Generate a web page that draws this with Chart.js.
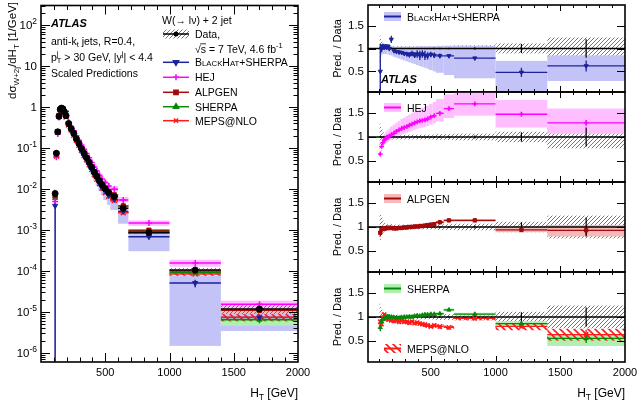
<!DOCTYPE html>
<html>
<head>
<meta charset="utf-8">
<script src="https://cdn.jsdelivr.net/npm/chart.js@4.4.1/dist/chart.umd.min.js"></script>
<style>
  html, body { margin: 0; padding: 0; background: #fff; }
  #wrap { position: relative; width: 638px; height: 403px; }
  #wrap canvas { position: absolute; left: 0; top: 0; }
</style>
</head>
<body>
<div id="wrap">
  <canvas id="main" width="638" height="403"></canvas>
  <canvas id="r1" width="638" height="403"></canvas>
  <canvas id="r2" width="638" height="403"></canvas>
  <canvas id="r3" width="638" height="403"></canvas>
  <canvas id="r4" width="638" height="403"></canvas>
</div>
<script>
const FONT = '"Liberation Sans", Arial, Helvetica, sans-serif';

// ---------------- data (HT bins, GeV) ----------------
const binCenter = [110,120,130,140,150,160,170,180,195,215,235,255,275,295,315,335,355,375,395,415,435,455,475,500,527,570,640,840,1200,1700];
const binLo     = [105,115,125,135,145,155,165,175,185,205,225,245,265,285,305,325,345,365,385,405,425,445,465,485,515,540,600,680,1000,1400];
const binHi     = [115,125,135,145,155,165,175,185,205,225,245,265,285,305,325,345,365,385,405,425,445,465,485,515,540,600,680,1000,1400,2000];

// measured d sigma / d HT [1/GeV]
const dataXsec    = [0.0078,0.075,0.25,0.6,0.88,0.95,0.9,0.78,0.62,0.40,0.30,0.23,0.17,0.13,0.098,0.075,0.058,0.045,0.034,0.026,0.0205,0.016,0.0128,0.0102,0.0082,0.0066,0.0034,0.00087,0.000106,0.0000118];
const dataTotErr  = [0.28,0.2,0.14,0.1,0.08,0.07,0.06,0.06,0.06,0.05,0.05,0.05,0.05,0.05,0.05,0.05,0.05,0.05,0.05,0.05,0.05,0.05,0.05,0.05,0.05,0.06,0.06,0.07,0.11,0.24];
const dataStatErr = [0.02,0.01,0.005,0.005,0.005,0.005,0.005,0.005,0.005,0.005,0.005,0.005,0.005,0.005,0.006,0.006,0.007,0.008,0.009,0.01,0.011,0.012,0.013,0.012,0.015,0.015,0.015,0.03,0.1,0.2];

// prediction / data
const bhRatio  = [0.5,1.0,1.05,1.02,1.05,1.03,1.05,1.0,1.2,0.95,0.93,0.92,0.91,0.89,0.88,0.86,0.89,0.85,0.88,0.85,0.88,0.85,0.84,0.87,0.85,0.84,0.84,0.79,0.48,0.62];
const bhErr    = [0.6,0.08,0.06,0.05,0.05,0.05,0.04,0.05,0.08,0.03,0.03,0.04,0.04,0.04,0.05,0.05,0.06,0.06,0.08,0.1,0.08,0.1,0.08,0.06,0.06,0.05,0.04,0.03,0.1,0.12];
const bhBandLo = [0.0,0.85,0.88,0.88,0.88,0.88,0.87,0.86,0.85,0.82,0.8,0.78,0.76,0.74,0.72,0.7,0.68,0.66,0.64,0.62,0.6,0.58,0.56,0.53,0.5,0.47,0.42,0.35,0.014,0.29];
const bhBandHi = [1.1,1.1,1.1,1.08,1.07,1.06,1.05,1.05,1.05,1.04,1.04,1.04,1.04,1.04,1.04,1.04,1.04,1.04,1.05,1.05,1.05,1.05,1.05,1.05,1.05,1.05,1.06,1.06,0.73,0.85];

const hejRatio  = [0.64,0.8,0.88,0.93,0.96,0.99,1.0,1.02,1.05,1.08,1.12,1.15,1.18,1.2,1.22,1.25,1.27,1.3,1.32,1.34,1.35,1.36,1.38,1.42,1.45,1.5,1.6,1.7,1.48,1.3];
const hejErr    = [0.03,0.02,0.02,0.02,0.02,0.02,0.02,0.02,0.02,0.02,0.02,0.02,0.02,0.02,0.02,0.02,0.02,0.02,0.02,0.03,0.03,0.03,0.03,0.03,0.03,0.03,0.03,0.02,0.03,0.06];
const hejBandLo = [0.58,0.7,0.78,0.83,0.86,0.88,0.9,0.92,0.94,0.97,1.0,1.03,1.05,1.07,1.09,1.11,1.13,1.15,1.17,1.19,1.2,1.21,1.23,1.26,1.29,1.33,1.4,1.45,1.2,1.07];
const hejBandHi = [0.72,0.9,1.0,1.06,1.1,1.13,1.15,1.18,1.22,1.26,1.3,1.34,1.38,1.41,1.44,1.47,1.5,1.53,1.56,1.59,1.61,1.63,1.66,1.7,1.74,1.8,1.9,1.98,1.78,1.6];

const alpRatio  = [0.88,0.95,0.97,0.97,0.97,0.98,0.98,0.98,0.98,0.97,0.97,0.98,0.98,0.99,0.99,1.0,1.0,1.01,1.01,1.02,1.02,1.03,1.04,1.05,1.06,1.1,1.14,1.14,0.94,0.93];
const alpErr    = [0.08,0.03,0.02,0.02,0.02,0.02,0.02,0.02,0.02,0.02,0.02,0.02,0.02,0.02,0.02,0.02,0.02,0.02,0.02,0.02,0.02,0.02,0.02,0.02,0.02,0.02,0.02,0.02,0.05,0.1];
const alpBandLo = [0.84,0.92,0.94,0.94,0.94,0.95,0.95,0.95,0.95,0.94,0.94,0.95,0.95,0.96,0.96,0.97,0.97,0.98,0.98,0.99,0.99,1.0,1.01,1.02,1.03,1.07,1.11,1.11,0.89,0.8];
const alpBandHi = [0.92,0.98,1.0,1.0,1.0,1.01,1.01,1.01,1.01,1.0,1.0,1.01,1.01,1.02,1.02,1.03,1.03,1.04,1.04,1.05,1.05,1.06,1.07,1.08,1.09,1.13,1.17,1.17,0.99,1.04];

const shRatio  = [0.78,0.9,0.95,0.98,1.0,1.0,1.01,1.0,1.0,0.99,0.99,0.98,0.99,1.0,1.0,1.01,1.0,1.02,1.03,1.02,1.04,1.05,1.05,1.06,1.06,1.07,1.15,1.06,0.86,0.55];
const shErr    = [0.08,0.04,0.03,0.02,0.02,0.02,0.02,0.02,0.02,0.02,0.02,0.02,0.02,0.02,0.02,0.02,0.02,0.02,0.02,0.02,0.02,0.03,0.03,0.03,0.03,0.03,0.03,0.02,0.04,0.1];
const shBandLo = [0.74,0.87,0.92,0.95,0.97,0.97,0.98,0.97,0.97,0.96,0.96,0.95,0.96,0.97,0.97,0.98,0.97,0.99,1.0,0.99,1.01,1.02,1.02,1.03,1.03,1.04,1.12,1.03,0.82,0.39];
const shBandHi = [0.82,0.93,0.98,1.01,1.03,1.03,1.04,1.03,1.03,1.02,1.02,1.01,1.02,1.03,1.03,1.04,1.03,1.05,1.06,1.05,1.07,1.08,1.08,1.09,1.09,1.1,1.18,1.09,0.91,0.62];

const mepsRatio  = [0.9,0.85,0.98,1.05,1.0,0.97,0.95,0.95,0.93,0.92,0.92,0.9,0.92,0.9,0.9,0.88,0.9,0.87,0.88,0.86,0.85,0.84,0.82,0.8,0.82,0.8,0.78,0.97,0.8,0.63];
const mepsErr    = [0.06,0.04,0.03,0.03,0.03,0.03,0.03,0.03,0.03,0.03,0.03,0.03,0.03,0.03,0.03,0.03,0.03,0.03,0.03,0.03,0.03,0.03,0.03,0.03,0.03,0.03,0.03,0.02,0.04,0.1];
const mepsBandLo = [0.85,0.8,0.93,1.0,0.95,0.92,0.9,0.9,0.88,0.87,0.87,0.85,0.87,0.85,0.85,0.83,0.85,0.82,0.83,0.81,0.8,0.79,0.77,0.75,0.77,0.75,0.73,0.93,0.72,0.5];
const mepsBandHi = [0.94,0.89,1.02,1.09,1.04,1.01,0.99,0.99,0.97,0.96,0.96,0.94,0.96,0.94,0.94,0.92,0.94,0.91,0.92,0.9,0.89,0.88,0.86,0.84,0.86,0.84,0.82,1.0,0.87,0.75];

const xTickValues = [500, 1000, 1500, 2000];
const logTickExp = [-6, -5, -4, -3, -2, -1, 0, 1, 2];
const ratioTicks = [0.5, 1, 1.5];

//----------------------------------------helpers--------------------------------------//
function font(size, style) { return (style || '') + ' ' + size + 'px ' + FONT; }

// parts: [text, size, dy, noAdvance]
function rich(ctx, x, y, parts, align) {
  let total = 0;
  const widths = parts.map(p => {
    ctx.font = font(p[1]);
    const w = ctx.measureText(p[0]).width;
    if (!p[3]) total += w;
    return w;
  });
  let cx = align === 'right' ? x - total : (align === 'center' ? x - total / 2 : x);
  parts.forEach((p, i) => {
    ctx.font = font(p[1]);
    ctx.fillText(p[0], cx, y + (p[2] || 0));
    if (!p[3]) cx += widths[i];
  });
  return total;
}

function makeHatch(color, size, lw, dir) {
  const c = document.createElement('canvas');
  c.width = c.height = size;
  const g = c.getContext('2d');
  g.strokeStyle = color;
  g.lineWidth = lw;
  g.beginPath();
  if (dir > 0) {
    g.moveTo(0, size); g.lineTo(size, 0);
    g.moveTo(-1, 1); g.lineTo(1, -1);
    g.moveTo(size - 1, size + 1); g.lineTo(size + 1, size - 1);
  } else {
    g.moveTo(0, 0); g.lineTo(size, size);
    g.moveTo(-1, size - 1); g.lineTo(1, size + 1);
    g.moveTo(size - 1, -1); g.lineTo(size + 1, 1);
  }
  g.stroke();
  return g.createPattern(c, 'repeat');
}

const dataHatch = makeHatch('#666666', 4, 0.9, 1);
const mepsHatch = makeHatch('#ff1a1a', 7, 1.6, -1);

const BH_NAME = [['B', 10.5], ['LACK', 7.8], ['H', 10.5], ['AT', 7.8], ['+SHERPA', 10.5]];

const preds = [
  { ratio: bhRatio, err: bhErr, lo: bhBandLo, hi: bhBandHi, color: '#1c249c', band: 'rgb(195,195,248)', style: 'triangle', rot: 180, name: BH_NAME },
  { ratio: hejRatio, err: hejErr, lo: hejBandLo, hi: hejBandHi, color: '#ff00ff', band: 'rgb(255,190,255)', style: 'cross', rot: 0, name: [['HEJ', 10.5]] },
  { ratio: alpRatio, err: alpErr, lo: alpBandLo, hi: alpBandHi, color: '#a50a0a', band: 'rgb(245,185,185)', style: 'rect', rot: 0, name: [['ALPGEN', 10.5]] },
  { ratio: shRatio, err: shErr, lo: shBandLo, hi: shBandHi, color: '#0a870a', band: 'rgb(175,240,175)', style: 'triangle', rot: 0, name: [['SHERPA', 10.5]] },
  { ratio: mepsRatio, err: mepsErr, lo: mepsBandLo, hi: mepsBandHi, color: '#ff1a1a', band: mepsHatch, style: 'crossRot', rot: 0, name: [['MEPS@NLO', 10.5]] }
];

//----------------------------------------plugins--------------------------------------//
function layerPlugin(layers) {
  return {
    id: 'layers',
    beforeDatasetsDraw(chart) {
      const { ctx, chartArea: a } = chart;
      const xs = chart.scales.x, ys = chart.scales.y;
      const py = v => ys.getPixelForValue(Math.max(v, ys.min));
      const px = v => xs.getPixelForValue(v);
      ctx.save();
      ctx.beginPath();
      ctx.rect(a.left, a.top, a.right - a.left, a.bottom - a.top);
      ctx.clip();
      layers.forEach(L => {
        if (L.type === 'band') {
          ctx.fillStyle = L.fill;
          L.lo.forEach((lo, i) => {
            const x1 = px(binLo[i]), x2 = px(binHi[i]);
            const y1 = py(L.hi[i]), y2 = py(lo);
            ctx.fillRect(x1, y1, x2 - x1, y2 - y1);
          });
        } else if (L.type === 'hline') {
          ctx.strokeStyle = L.color;
          ctx.lineWidth = L.width;
          ctx.beginPath();
          ctx.moveTo(a.left, py(L.y));
          ctx.lineTo(a.right, py(L.y));
          ctx.stroke();
        } else if (L.type === 'bins') {
          ctx.strokeStyle = L.color;
          ctx.lineWidth = L.width;
          L.val.forEach((v, i) => {
            ctx.beginPath();
            if (!L.noH) {
              ctx.moveTo(px(binLo[i]), py(v));
              ctx.lineTo(px(binHi[i]), py(v));
            }
            const xc = px(binCenter[i]);
            ctx.moveTo(xc, py(L.lo[i]));
            ctx.lineTo(xc, py(L.hi[i]));
            ctx.stroke();
          });
        }
      });
      ctx.restore();
    }
  };
}

function framePlugin(xTicks, yTicks) {
  return {
    id: 'frame',
    afterDraw(chart) {
      const { ctx, chartArea: a } = chart;
      const xs = chart.scales.x, ys = chart.scales.y;
      ctx.save();
      ctx.strokeStyle = '#000';
      ctx.lineWidth = 1;
      ctx.beginPath();
      xTicks.forEach(t => {
        const p = Math.round(xs.getPixelForValue(t.v)) + 0.5;
        ctx.moveTo(p, a.bottom); ctx.lineTo(p, a.bottom - t.len);
        ctx.moveTo(p, a.top); ctx.lineTo(p, a.top + t.len);
      });
      yTicks.forEach(t => {
        const p = Math.round(ys.getPixelForValue(t.v)) + 0.5;
        ctx.moveTo(a.left, p); ctx.lineTo(a.left + t.len, p);
        ctx.moveTo(a.right, p); ctx.lineTo(a.right - t.len, p);
      });
      ctx.stroke();
      ctx.lineWidth = 1.6;
      ctx.strokeRect(a.left, a.top, a.right - a.left, a.bottom - a.top);
      ctx.restore();
    }
  };
}

function xTickMarks(min, maj, mnr) {
  const out = [];
  for (let v = 100; v < 2000; v += 100) {
    if (v > min) out.push({ v: v, len: v % 500 === 0 ? maj : mnr });
  }
  return out;
}

function logTickMarks(min, max) {
  const out = [];
  for (let e = -7; e <= 2; e++) {
    for (let k = 1; k <= 9; k++) {
      const v = k * Math.pow(10, e);
      if (v > min && v < max) out.push({ v: v, len: k === 1 ? 9 : 4.5 });
    }
  }
  return out;
}

function xScale(min, labels) {
  return {
    type: 'linear', min: min, max: 2000,
    afterBuildTicks: s => { s.ticks = xTickValues.map(v => ({ value: v })); },
    afterFit: s => { s.height = labels ? 30 : 0; s.paddingLeft = s.paddingRight = 0; },
    grid: { display: false, drawTicks: false },
    border: { display: false },
    ticks: { display: labels, padding: 4, color: '#000', font: { family: FONT, size: 11 }, maxRotation: 0, autoSkip: false, callback: v => String(v) }
  };
}

function ratioY() {
  return {
    type: 'linear', min: 0.05, max: 1.95,
    afterBuildTicks: s => { s.ticks = ratioTicks.map(v => ({ value: v })); },
    afterFit: s => { s.width = 40; s.paddingTop = s.paddingBottom = 0; },
    grid: { display: false, drawTicks: false },
    border: { display: false },
    ticks: { padding: 4, color: '#000', font: { family: FONT, size: 11.5 }, callback: v => String(v) }
  };
}

function markerSet(values, p, r) {
  return {
    data: binCenter.map((x, i) => ({ x: x, y: values[i] })),
    pointStyle: p.style, pointRotation: p.rot, pointRadius: r,
    backgroundColor: p.color, borderColor: p.color, borderWidth: p.style === 'crossRot' || p.style === 'cross' ? 1.5 : 1,
    showLine: false
  };
}

function makeChart(id, cfg) {
  return new Chart(document.getElementById(id), {
    type: 'scatter',
    data: { datasets: cfg.datasets },
    options: {
      responsive: false, animation: false, events: [],
      layout: { padding: cfg.padding },
      plugins: { legend: { display: false }, tooltip: { enabled: false } },
      scales: { x: cfg.x, y: cfg.y }
    },
    plugins: [layerPlugin(cfg.layers), framePlugin(cfg.xTicks, cfg.yTicks), { id: 'annot', afterDraw: cfg.annot }]
  });
}

//----------------------------------------main panel--------------------------------------//
const LOG_MIN = 6e-7, LOG_MAX = 304;
const mainLayers = [];
preds.forEach(p => mainLayers.push({ type: 'band', lo: dataXsec.map((d, i) => d * p.lo[i]), hi: dataXsec.map((d, i) => d * p.hi[i]), fill: p.band }));
mainLayers.push({ type: 'band', lo: dataXsec.map((d, i) => d * (1 - dataTotErr[i])), hi: dataXsec.map((d, i) => d * (1 + dataTotErr[i])), fill: dataHatch });
preds.forEach(p => mainLayers.push({
  type: 'bins', color: p.color, width: 1.5,
  val: dataXsec.map((d, i) => d * p.ratio[i]),
  lo: dataXsec.map((d, i) => d * (p.ratio[i] - p.err[i])),
  hi: dataXsec.map((d, i) => d * (p.ratio[i] + p.err[i]))
}));
mainLayers.push({ type: 'bins', color: '#000', width: 1.5, val: dataXsec,
  lo: dataXsec.map((d, i) => d * (1 - dataStatErr[i])), hi: dataXsec.map((d, i) => d * (1 + dataStatErr[i])) });

const mainSets = [{
  data: binCenter.map((x, i) => ({ x: x, y: dataXsec[i] })),
  pointStyle: 'circle', pointRadius: 3, backgroundColor: '#000', borderColor: '#000', showLine: false
}];
preds.forEach(p => mainSets.push(markerSet(dataXsec.map((d, i) => d * p.ratio[i]), p, p.style === 'crossRot' ? 3.5 : 3)));

function annotMain(chart) {
  const ctx = chart.ctx, a = chart.chartArea, ys = chart.scales.y;
  ctx.save();
  ctx.fillStyle = '#000';
  ctx.textAlign = 'left';
  ctx.textBaseline = 'alphabetic';
  logTickExp.forEach(e => {
    const y = ys.getPixelForValue(Math.pow(10, e));
    const parts = e === 0 ? [['1', 11.5]] : (e === 1 ? [['10', 11.5]] : [['10', 11.5], [String(e), 8.5, -5]]);
    rich(ctx, a.left - 4, y + 4, parts, 'right');
  });
  ctx.font = font(11, 'italic bold');
  ctx.fillText('ATLAS', 51, 26.5);
  rich(ctx, 51, 44.5, [['anti-k', 10.5], ['t', 7.5, 2.5], [' jets, R=0.4,', 10.5]]);
  rich(ctx, 51, 60.5, [['p', 10.5], ['j', 7.5, -5, true], ['T', 7.5, 2.5], [' > 30 GeV, |y', 10.5], ['j', 7.5, -5], ['| < 4.4', 10.5]]);
  rich(ctx, 51, 77, [['Scaled Predictions', 10.5]]);

  // legend
  rich(ctx, 162, 24, [['W(\u2192 l\u03bd) + 2 jet', 10.5]]);
  ctx.fillStyle = dataHatch;
  ctx.fillRect(163, 29.5, 26, 9);
  ctx.strokeStyle = '#000';
  ctx.lineWidth = 1.5;
  ctx.beginPath(); ctx.moveTo(163, 34); ctx.lineTo(189, 34); ctx.stroke();
  ctx.fillStyle = '#000';
  ctx.beginPath(); ctx.arc(176, 34, 2.5, 0, Math.PI * 2); ctx.fill();
  rich(ctx, 195, 38, [['Data,', 10.5]]);
  ctx.font = font(10.5);
  const wr = ctx.measureText('\u221a').width, ws = ctx.measureText('s').width;
  rich(ctx, 195, 52.5, [['\u221as = 7 TeV, 4.6 fb', 10.5], ['-1', 7.5, -4.5]]);
  ctx.lineWidth = 0.8;
  ctx.beginPath(); ctx.moveTo(195 + wr - 0.5, 43.8); ctx.lineTo(195 + wr + ws, 43.8); ctx.stroke();

  const ly = [62.3, 77.3, 92.3, 106.7, 120.7];
  preds.forEach((p, k) => {
    ctx.strokeStyle = p.color;
    ctx.fillStyle = p.color;
    ctx.lineWidth = 1.5;
    ctx.beginPath(); ctx.moveTo(163, ly[k]); ctx.lineTo(189, ly[k]); ctx.stroke();
    Chart.helpers.drawPoint(ctx, { pointStyle: p.style, rotation: p.rot, radius: 3, borderWidth: 1.5 }, 176, ly[k]);
    ctx.fillStyle = '#000';
    rich(ctx, 195, ly[k] + 4, p.name);
  });

  ctx.fillStyle = '#000';
  ctx.save();
  ctx.translate(16, 2);
  ctx.rotate(-Math.PI / 2);
  rich(ctx, 0, 0, [['d\u03c3', 11.5], ['W+2j', 8, 3], ['/dH', 11.5], ['T', 8, 3], [' [1/GeV]', 11.5]], 'right');
  ctx.restore();
  rich(ctx, a.right, 396.5, [['H', 12], ['T', 8.5, 3], [' [GeV]', 12]], 'right');
  ctx.restore();
}

makeChart('main', {
  datasets: mainSets,
  padding: { left: 3, top: 2, right: 340, bottom: 11 },
  x: xScale(0, true),
  y: {
    type: 'logarithmic', min: LOG_MIN, max: LOG_MAX,
    afterBuildTicks: s => { s.ticks = logTickExp.map(e => ({ value: Math.pow(10, e) })); },
    afterFit: s => { s.width = 38; s.paddingTop = s.paddingBottom = 0; },
    grid: { display: false, drawTicks: false },
    border: { display: false },
    ticks: { display: false }
  },
  layers: mainLayers,
  xTicks: xTickMarks(0, 9, 4.5),
  yTicks: logTickMarks(LOG_MIN, LOG_MAX),
  annot: annotMain
});

//----------------------------------------ratio panels--------------------------------------//
const ones = binCenter.map(() => 1);
const panels = [
  { id: 'r1', top: 2, bottom: 92, list: [preds[0]] },
  { id: 'r2', top: 92, bottom: 182, list: [preds[1]] },
  { id: 'r3', top: 182, bottom: 272, list: [preds[2]] },
  { id: 'r4', top: 272, bottom: 362, list: [preds[3], preds[4]] }
];

function legendBox(ctx, p, y) {
  ctx.fillStyle = p.band;
  ctx.fillRect(384, y - 4.5, 17, 9);
  ctx.strokeStyle = p.color;
  ctx.lineWidth = 2;
  ctx.beginPath(); ctx.moveTo(384, y); ctx.lineTo(401, y); ctx.stroke();
  ctx.fillStyle = '#000';
  rich(ctx, 407, y + 4, p.name);
}

panels.forEach((pn, k) => {
  const layers = [{ type: 'band', lo: dataTotErr.map(e => 1 - e), hi: dataTotErr.map(e => 1 + e), fill: dataHatch }];
  pn.list.forEach(p => layers.push({ type: 'band', lo: p.lo, hi: p.hi, fill: p.band }));
  layers.push({ type: 'hline', y: 1, color: '#000', width: 1.5 });
  pn.list.forEach(p => layers.push({
    type: 'bins', color: p.color, width: 1.3, val: p.ratio,
    lo: p.ratio.map((r, i) => r - p.err[i]), hi: p.ratio.map((r, i) => r + p.err[i])
  }));
  layers.push({ type: 'bins', color: '#000', width: 1.2, noH: true, val: ones,
    lo: dataStatErr.map(e => 1 - e), hi: dataStatErr.map(e => 1 + e) });

  const sets = pn.list.map(p => markerSet(p.ratio, p, p.style === 'crossRot' ? 3 : 2.4));
  const last = k === panels.length - 1;

  makeChart(pn.id, {
    datasets: sets,
    padding: { left: 328, top: pn.top, right: 13, bottom: 403 - pn.bottom - (last ? 30 : 0) },
    x: xScale(15, last),
    y: ratioY(),
    layers: layers,
    xTicks: xTickMarks(15, 6, 3),
    yTicks: ratioTicks.map(v => ({ v: v, len: 8 })),
    annot: chart => {
      const ctx = chart.ctx, a = chart.chartArea;
      ctx.save();
      ctx.fillStyle = '#000';
      ctx.textAlign = 'left';
      ctx.textBaseline = 'alphabetic';
      ctx.save();
      ctx.translate(341, (a.top + a.bottom) / 2);
      ctx.rotate(-Math.PI / 2);
      rich(ctx, 0, 0, [['Pred. / Data', 11]], 'center');
      ctx.restore();
      if (k === 0) {
        legendBox(ctx, preds[0], 16.5);
        ctx.fillStyle = '#000';
        ctx.font = font(11, 'italic bold');
        ctx.fillText('ATLAS', 381, 83);
      } else if (k === 1) {
        legendBox(ctx, preds[1], 107.5);
      } else if (k === 2) {
        legendBox(ctx, preds[2], 198.5);
      } else {
        legendBox(ctx, preds[3], 288.5);
        legendBox(ctx, preds[4], 348.5);
        ctx.fillStyle = '#000';
        rich(ctx, a.right, 397, [['H', 12], ['T', 8.5, 3], [' [GeV]', 12]], 'right');
      }
      ctx.restore();
    }
  });
});
</script>
</body>
</html>
